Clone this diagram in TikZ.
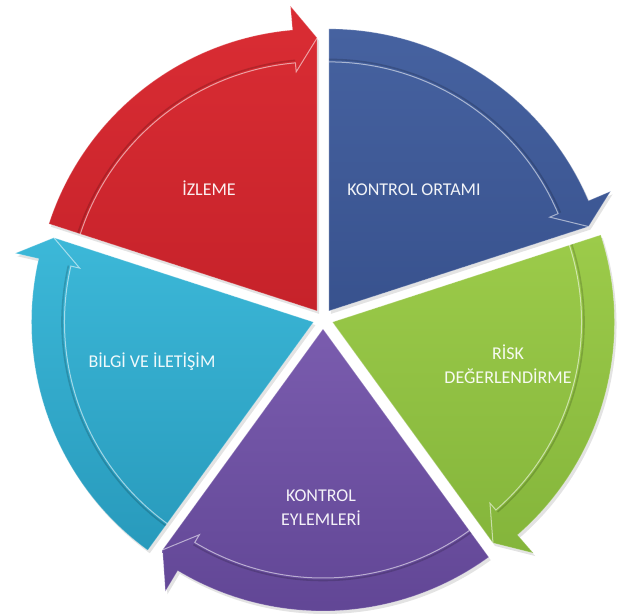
\documentclass[tikz,border=0pt]{standalone}
\usepackage{fontspec}
\setmainfont{Carlito}
\definecolor{blueT}{HTML}{4662A0}\definecolor{blueB}{HTML}{38528E}
\definecolor{greenT}{HTML}{9CCB4A}\definecolor{greenB}{HTML}{84B53B}
\definecolor{purpT}{HTML}{7A5CAE}\definecolor{purpB}{HTML}{604594}
\definecolor{cyanT}{HTML}{3CB8D8}\definecolor{cyanB}{HTML}{289ABC}
\definecolor{redT}{HTML}{DA2D34}\definecolor{redB}{HTML}{C6222A}
\newcommand\cycleseg[3]{%
  \pgfmathsetmacro\segmid{#1-36}%
  \pgfmathsetmacro\segend{#1-72}%
  \pgfmathsetmacro\segbase{#1-67}%
  \begin{scope}[shift={(323,295)},shift={(\segmid:10)}]
    \path[fill=gray, opacity=0.22, xshift=2, yshift=-3]
      (0,0) -- (#1:282) arc[start angle=#1, end angle=\segbase, radius=282]
      -- (\segbase:306) -- (\segend:273) -- cycle;
    \path[top color=#2, bottom color=#3, draw=white, draw opacity=0.25, line width=0.8]
      (0,0) -- (#1:282) arc[start angle=#1, end angle=\segbase, radius=282]
      -- (\segbase:306) -- (\segend:273) -- cycle;
    \draw[black, opacity=0.16, line width=1.6]
      (#1:251.5) arc[start angle=#1, end angle=\segbase, radius=251.5];
    \draw[white, opacity=0.55, line width=1]
      (#1:249) arc[start angle=#1, end angle=\segbase, radius=249]
      -- (\segbase:240) -- (\segend:273);
  \end{scope}}
\tikzset{seglabel/.style={text=white, text opacity=0.93, align=center,
  font=\fontsize{18}{24}\selectfont}}
\begin{document}
\begin{tikzpicture}[x=1pt,y=1pt]
\useasboundingbox (0,0) rectangle (617,614);
\cycleseg{90}{blueT}{blueB}
\cycleseg{18}{greenT}{greenB}
\cycleseg{-54}{purpT}{purpB}
\cycleseg{-126}{cyanT}{cyanB}
\cycleseg{162}{redT}{redB}
\node[seglabel] (izleme) at (209,426) {İZLEME};
\node[seglabel] (ortam) at (414,424) {KONTROL ORTAMI};
\node[seglabel] (risk) at (508,250) {RİSK\\DEĞERLENDİRME};
\node[seglabel] (bilgi) at (152,252) {BİLGİ VE İLETİŞİM};
\node[seglabel] (eylem) at (321,106) {KONTROL\\EYLEMLERİ};
\end{tikzpicture}
\end{document}
